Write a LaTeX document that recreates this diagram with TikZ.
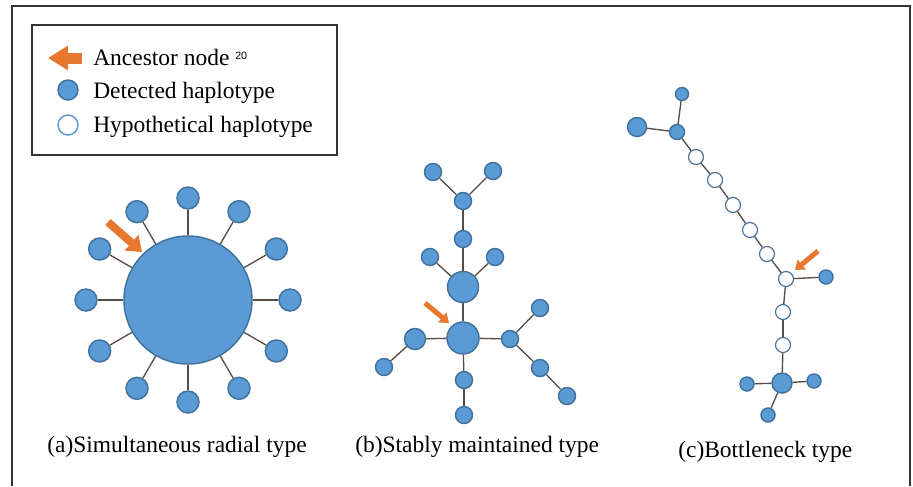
\documentclass[tikz,border=0pt]{standalone}
\usepackage{fontspec}
\setmainfont{Liberation Serif}
\setsansfont{Liberation Sans}
\usetikzlibrary{positioning}
\usetikzlibrary{arrows.meta}
\definecolor{hapblue}{HTML}{5B9BD5}
\definecolor{hapedge}{HTML}{41719C}
\definecolor{ancorange}{HTML}{E8782F}
\definecolor{linkgray}{HTML}{574C46}
\tikzset{
    hapnode/.style = {circle, line width=1.1pt, draw=hapedge, fill=hapblue, inner sep=0pt, minimum size=#1},
    hapnode/.default = 12.75pt,
    hapnodeh/.style = {circle, line width=0.9pt, draw=hapedge!80!gray, fill=white, inner sep=0pt, minimum size=11.25pt},
    edgen/.style = {-, line width=1pt, linkgray},
    ancarrow/.style = {-{Triangle[length=0pt 1.75, width=0pt 2.5]}, line width=#1, ancorange},
    captext/.style = {font=\fontsize{17.6}{20}\selectfont, anchor=base west, inner sep=0pt},
    frameline/.style = {line width=1.1pt, draw=black!80}
}

\begin{document}
\begin{tikzpicture}[x=0.75pt,y=-0.75pt]
\path[use as bounding box] (0,0) rectangle (913,486);
\draw[frameline] (12,486) -- (12,6) -- (910,6) -- (910,486);

% legend
\draw[frameline] (32,25) rectangle (337,155);
\coordinate (L0) at (82,58);
\coordinate (L1) at (48,58);
\draw[ancarrow=8.25pt,-{Triangle[length=0pt 1.8, width=0pt 2.1]}] (L0) -- (L1);
\node[hapnode=15pt] at (68,90) (ld) {};
\node[circle, line width=1.1pt, draw=hapblue, fill=white, minimum size=15pt, inner sep=0pt] at (68,125) (lh) {};
\node[captext] at (93,65) (t1) {Ancestor node};
\node[font=\sffamily\fontsize{8}{9}\selectfont, anchor=base west, inner sep=0pt] at (235,59) (t1s) {20};
\node[captext] at (93,98) (t2) {Detected haplotype};
\node[captext] at (93,132) (t3) {Hypothetical haplotype};

% (a) radial
\node[hapnode=96pt] at (188,300) (A0) {};
\foreach \ang [count=\i] in {0,30,...,330} {
    \node[hapnode=16.5pt] at ([shift={(\ang:102)}]A0.center) (a\i) {};
    \draw[edgen] (A0) -- (a\i);
}
\coordinate (pa0) at (108,222);
\coordinate (pa1) at (142,252);
\draw[ancarrow=6pt] (pa0) -- (pa1);

% (b) stable
\node[hapnode] at (433,172) (b1) {};
\node[hapnode] at (493,171) (b2) {};
\node[hapnode] at (463,201) (b3) {};
\node[hapnode] at (463,239) (b4) {};
\node[hapnode] at (430,257) (b5) {};
\node[hapnode] at (495,257) (b6) {};
\node[hapnode=23.25pt] at (463,287) (b7) {};
\node[hapnode=24pt] at (463,338) (b8) {};
\node[hapnode=15.75pt] at (415,339) (b9) {};
\node[hapnode] at (384,367) (b10) {};
\node[hapnode] at (510,339) (b11) {};
\node[hapnode] at (540,308) (b12) {};
\node[hapnode] at (540,368) (b13) {};
\node[hapnode] at (567,396) (b14) {};
\node[hapnode] at (464,380) (b15) {};
\node[hapnode] at (464,415) (b16) {};
%
\draw[edgen] (b1) -- (b3);
\draw[edgen] (b2) -- (b3);
\draw[edgen] (b3) -- (b4);
\draw[edgen] (b4) -- (b7);
\draw[edgen] (b5) -- (b7);
\draw[edgen] (b6) -- (b7);
\draw[edgen] (b7) -- (b8);
\draw[edgen] (b8) -- (b9);
\draw[edgen] (b9) -- (b10);
\draw[edgen] (b8) -- (b11);
\draw[edgen] (b11) -- (b12);
\draw[edgen] (b11) -- (b13);
\draw[edgen] (b13) -- (b14);
\draw[edgen] (b8) -- (b15);
\draw[edgen] (b15) -- (b16);
\coordinate (pb0) at (425,303);
\coordinate (pb1) at (449,323);
\draw[ancarrow=3.75pt] (pb0) -- (pb1);

% (c) bottleneck
\node[hapnode=9.75pt] at (682,94) (c1) {};
\node[hapnode=14.25pt] at (637,127) (c2) {};
\node[hapnode=11.25pt] at (677,132) (c3) {};
\node[hapnodeh] at (696,157) (h1) {};
\node[hapnodeh] at (715,180) (h2) {};
\node[hapnodeh] at (733,205) (h3) {};
\node[hapnodeh] at (750,230) (h4) {};
\node[hapnodeh] at (767,254) (h5) {};
\node[hapnodeh] at (786,279) (h6) {};
\node[hapnode=10.5pt] at (826,277) (c4) {};
\node[hapnodeh] at (783,312) (h7) {};
\node[hapnodeh] at (783,345) (h8) {};
\node[hapnode=15pt] at (782,383) (c5) {};
\node[hapnode=10.5pt] at (747,384) (c6) {};
\node[hapnode=10.5pt] at (814,381) (c7) {};
\node[hapnode=10.5pt] at (768,415) (c8) {};
%
\draw[edgen] (c1) -- (c3);
\draw[edgen] (c2) -- (c3);
\draw[edgen] (c3) -- (h1);
\foreach \j [evaluate=\j as \k using int(\j+1)] in {1,...,5}
    \draw[edgen] (h\j) -- (h\k);
\draw[edgen] (h6) -- (c4);
\draw[edgen] (h6) -- (h7);
\draw[edgen] (h7) -- (h8);
\draw[edgen] (h8) -- (c5);
\draw[edgen] (c5) -- (c6);
\draw[edgen] (c5) -- (c7);
\draw[edgen] (c5) -- (c8);
\coordinate (pc0) at (818,251);
\coordinate (pc1) at (795,270);
\draw[ancarrow=3.75pt] (pc0) -- (pc1);

% captions
\node[captext] at (47,452) (capa) {(a)Simultaneous radial type};
\node[captext] at (355,452) (capb) {(b)Stably maintained type};
\node[captext] at (678,457) (capc) {(c)Bottleneck type};
\end{tikzpicture}
\end{document}
